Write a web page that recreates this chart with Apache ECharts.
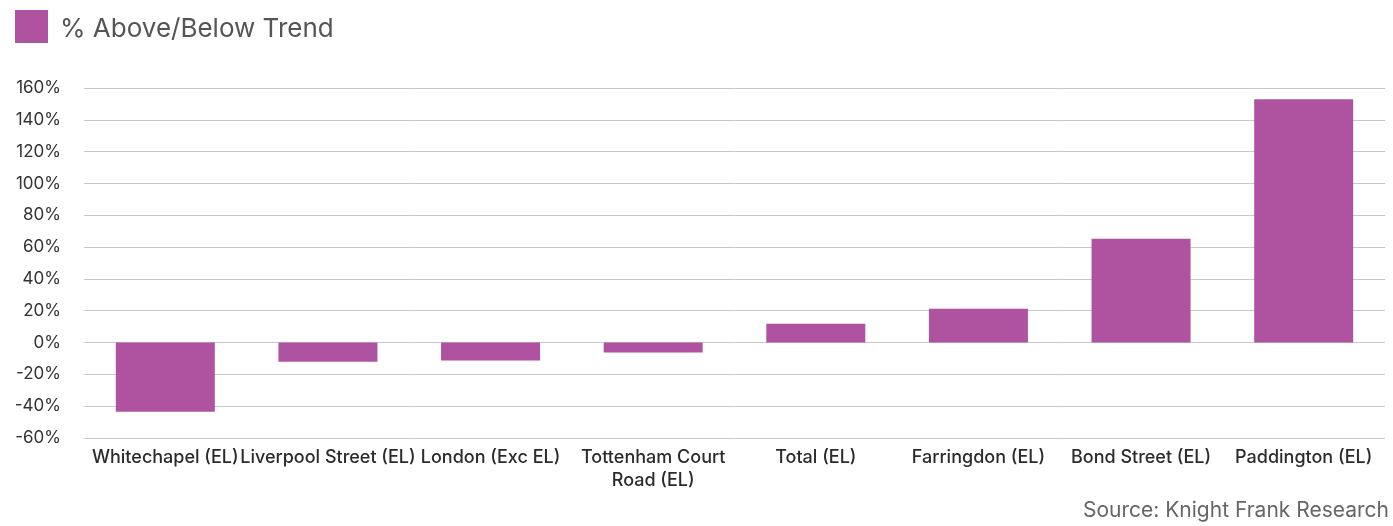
<!DOCTYPE html>
<html>
<head>
<meta charset="utf-8">
<script src="https://cdn.jsdelivr.net/npm/echarts@6/dist/echarts.min.js"></script>
<style>
  html, body { margin: 0; padding: 0; background: #fff; }
  #chart { width: 1393px; height: 526px; }
</style>
</head>
<body>
<div id="chart"></div>
<script>
// data
const stations = [
  'Whitechapel (EL)',
  'Liverpool Street (EL)',
  'London (Exc EL)',
  'Tottenham Court Road (EL)',
  'Total (EL)',
  'Farringdon (EL)',
  'Bond Street (EL)',
  'Paddington (EL)'
]
const trendPct = [-43.5, -12, -11.3, -6.3, 11.8, 21.2, 65.3, 152.9]
const seriesName = '% Above/Below Trend'
const sourceText = 'Source: Knight Frank Research'

const barColor = '#af52a0'
const font = 'Inter, "Noto Sans", sans-serif'

const chart = echarts.init(document.getElementById('chart'))
chart.setOption({
  animation: false,
  textStyle: { fontFamily: font },
  legend: {
    left: 15,
    top: 10,
    padding: 0,
    itemWidth: 33,
    itemHeight: 33,
    icon: 'rect',
    formatter: '{t|{name}}',
    textStyle: {
      fontSize: 26,
      color: '#555',
      fontFamily: font,
      rich: {
        t: { fontSize: 26, color: '#555', fontFamily: font, padding: [6, 0, 0, 7] }
      }
    },
    data: [seriesName]
  },
  title: {
    text: sourceText,
    right: 4,
    top: 500,
    padding: 0,
    textStyle: { fontSize: 21, fontWeight: 'normal', color: '#666', fontFamily: font }
  },
  grid: { left: 84, right: 8, top: 88, bottom: 88, containLabel: false },
  xAxis: {
    type: 'category',
    data: stations,
    axisLine: { show: false },
    axisTick: { show: false },
    axisLabel: {
      interval: 0,
      hideOverlap: false,
      margin: 8,
      fontSize: 18,
      fontWeight: 500,
      lineHeight: 23,
      color: '#2b2b2b',
      fontFamily: font,
      formatter: v => v === 'Tottenham Court Road (EL)' ? 'Tottenham Court\nRoad (EL)' : v
    }
  },
  yAxis: {
    type: 'value',
    min: -60,
    max: 160,
    interval: 20,
    axisLine: { show: false },
    axisTick: { show: false },
    axisLabel: {
      formatter: '{value}%',
      fontSize: 17,
      color: '#333',
      margin: 23,
      fontFamily: font
    },
    splitLine: { lineStyle: { color: '#c8c8c8', width: 1 } }
  },
  series: [{
    name: seriesName,
    type: 'bar',
    data: trendPct,
    barWidth: 99,
    itemStyle: { color: barColor }
  }]
})
</script>
</body>
</html>
